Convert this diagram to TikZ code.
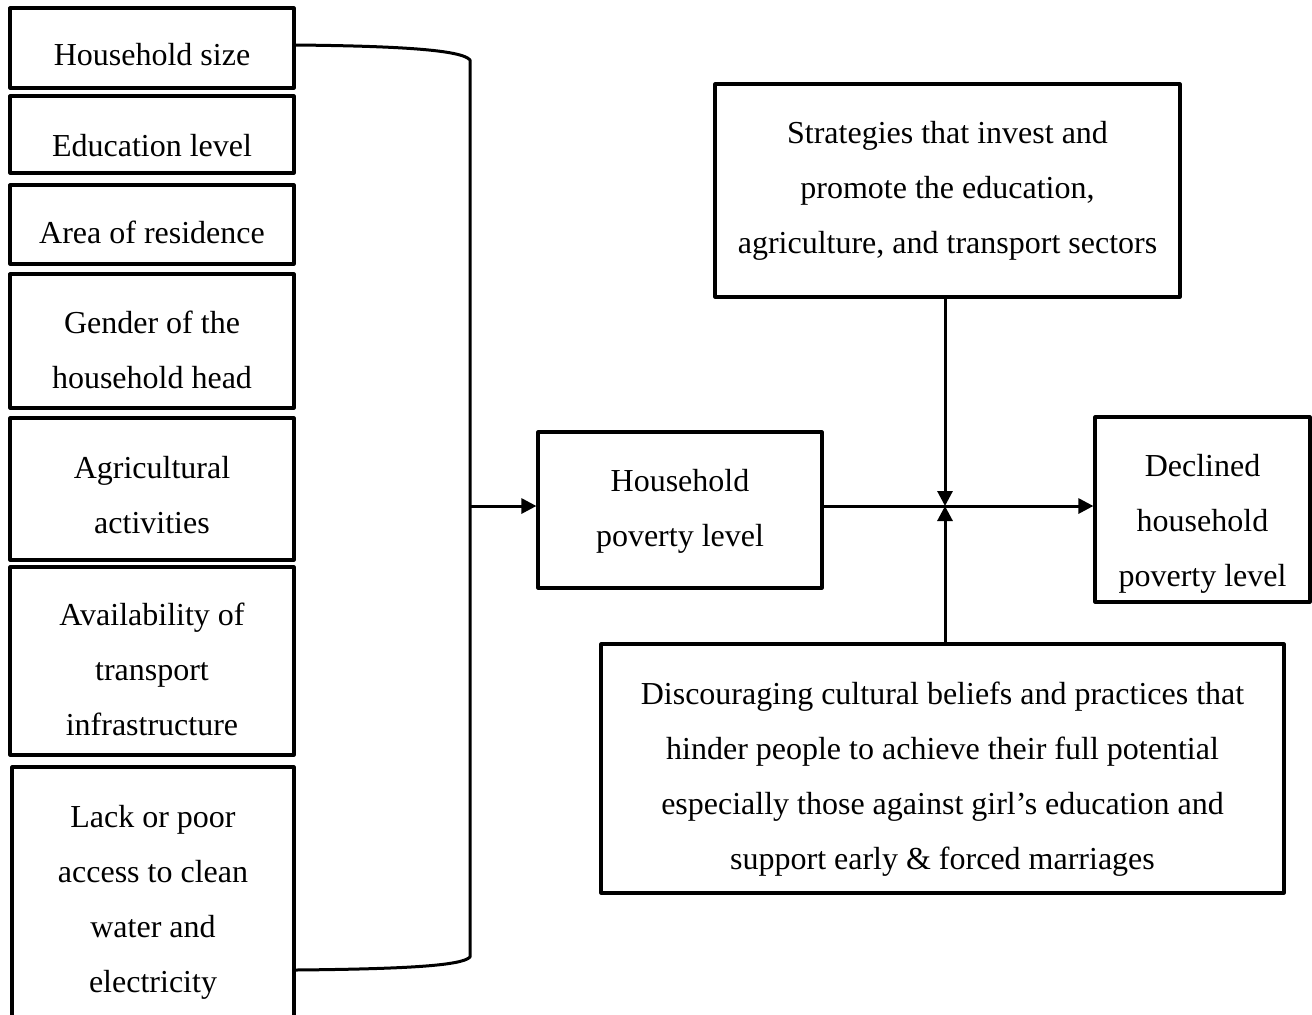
\documentclass[tikz,border=0pt]{standalone}
\usepackage{fontspec}
\setmainfont{Liberation Serif}
\usetikzlibrary{arrows.meta}
\newcommand{\tdrop}[1]{\rule{0pt}{#1}}
\tikzset{
  factor/.style={draw, line width=1.6pt, align=center, inner sep=0pt, minimum width=142pt},
  block/.style={draw, line width=1.6pt, align=center, inner sep=0pt},
  link/.style={line width=1.5pt, -{Triangle[length=7.5pt,width=7.5pt]}}
}
\begin{document}
\begin{tikzpicture}[x=0.5pt,y=-0.5pt,line join=round,font=\fontsize{16}{27.5}\selectfont]
	\path[use as bounding box] (0,0) rectangle (1312,1014);
	\clip (0,0) rectangle (1312,1014);
	% left column of factors
	\node[factor, minimum height=40pt] (size) at (152,48) {\tdrop{18pt}Household size};
	\node[factor, minimum height=38.5pt] (edu) at (152,134.5) {\tdrop{22pt}Education level};
	\node[factor, minimum height=39.5pt] (area) at (152,224.5) {\tdrop{19pt}Area of residence};
	\node[factor, minimum height=67pt] (gender) at (152,341) {\tdrop{20pt}Gender of the\\household head};
	\node[factor, minimum height=71pt] (agri) at (152,489) {\tdrop{17pt}Agricultural\\activities};
	\node[factor, minimum height=94pt] (trans) at (152,661) {\tdrop{20pt}Availability of\\transport\\infrastructure};
	\node[factor, minimum width=141pt, minimum height=131.5pt] (water) at (153,898.5) {\tdrop{15pt}Lack or poor\\access to clean\\water and\\electricity};
	% right part
	\node[block, minimum width=142pt, minimum height=78pt] (pov) at (680,510) {\tdrop{12pt}Household\\poverty level};
	\node[block, minimum width=232.5pt, minimum height=106.5pt] (strat) at (947.5,190.5) {Strategies that invest and\\promote the education,\\agriculture, and transport sectors};
	\node[block, minimum width=107.5pt, minimum height=92.5pt] (decl) at (1202.5,509.5) {\tdrop{25pt}Declined\\household\\poverty level};
	\node[block, minimum width=341.5pt, minimum height=124.5pt] (disc) at (942.5,768.5) {\tdrop{22pt}Discouraging cultural beliefs and practices that\\hinder people to achieve their full potential\\especially those against girl’s education and\\support early \& forced marriages};
	% bracket and connectors
	\coordinate (brk) at (470,506);
	\coordinate (jn) at (945,506);
	\draw[line width=1.5pt] (size.east |- 0,45) .. controls (400,46) and (462,50) .. (470,60) -- (470,957) .. controls (462,966) and (400,969) .. (water.east |- 0,970);
	\draw[link] (brk) -- (pov.west |- brk);
	\draw[line width=1.5pt] (pov.east |- jn) -- (jn);
	\draw[link] (jn) -- (decl.west |- jn);
	\draw[link] (strat.south -| jn) -- (jn);
	\draw[link] (disc.north -| jn) -- (jn);
\end{tikzpicture}
\end{document}
